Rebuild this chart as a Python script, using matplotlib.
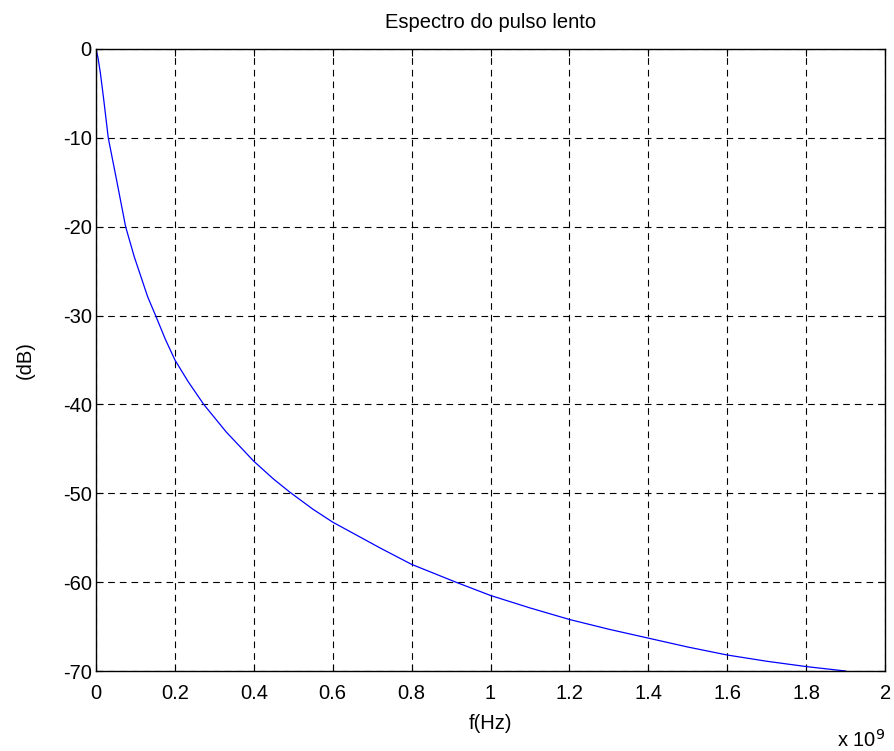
import numpy as np
import matplotlib

matplotlib.use("Agg")
import matplotlib.pyplot as plt  # noqa: E402
from matplotlib.ticker import FuncFormatter, MultipleLocator  # noqa: E402

# frequency in units of 1e9 Hz, magnitude in dB
freq_g = [0, 0.005, 0.011, 0.0195, 0.031, 0.051, 0.075, 0.097, 0.131, 0.151,
          0.176, 0.2, 0.233, 0.273, 0.33, 0.4, 0.45, 0.492, 0.55, 0.6,
          0.66, 0.722, 0.8, 0.912, 1.0, 1.1, 1.2, 1.3, 1.4, 1.5,
          1.6, 1.7, 1.8, 1.9]
mag_db = [0, -1.0, -2.7, -5.7, -10, -14.5, -20, -23.4, -27.9, -30,
          -32.7, -35, -37.4, -40, -43.1, -46.4, -48.4, -49.9, -51.8, -53.25,
          -54.7, -56.2, -58, -60, -61.5, -62.9, -64.2, -65.3, -66.3, -67.3,
          -68.2, -68.9, -69.5, -70]

plt.rcParams["font.family"] = ["Liberation Sans", "DejaVu Sans"]
fs = 14.5

fig = plt.figure(figsize=(8.95, 7.51), dpi=100)
ax = fig.add_axes([0.1073, 0.1065, 0.8816, 0.8283])

f_hz = np.array(freq_g) * 1e9
ax.plot(f_hz, mag_db, color="#0000ff", lw=0.9)

ax.set_xlim(0, 2e9)
ax.set_ylim(-70, 0)
ax.xaxis.set_major_locator(MultipleLocator(0.2e9))
ax.yaxis.set_major_locator(MultipleLocator(10))
ax.xaxis.set_major_formatter(FuncFormatter(lambda v, p: f"{v / 1e9:g}"))
ax.yaxis.set_major_formatter(FuncFormatter(lambda v, p: f"{v:g}"))

ax.grid(True, color="black", lw=0.8, linestyle=(0, (6, 4.5)))
ax.tick_params(direction="in", top=True, right=True, length=5,
               labelsize=fs, width=0.8)
ax.tick_params(axis="x", pad=9)
ax.tick_params(axis="y", pad=3)
for s in ax.spines.values():
    s.set_linewidth(1.0)

ax.set_title("Espectro do pulso lento", fontsize=fs, pad=15)
ax.set_xlabel("f(Hz)", fontsize=fs, labelpad=8)
ax.set_ylabel("(dB)", fontsize=fs, labelpad=20)
ax.text(1.0, -0.093, r"x 10$^{9}$", transform=ax.transAxes,
        ha="right", va="top", fontsize=fs)

fig.savefig("out.png", dpi=100)
